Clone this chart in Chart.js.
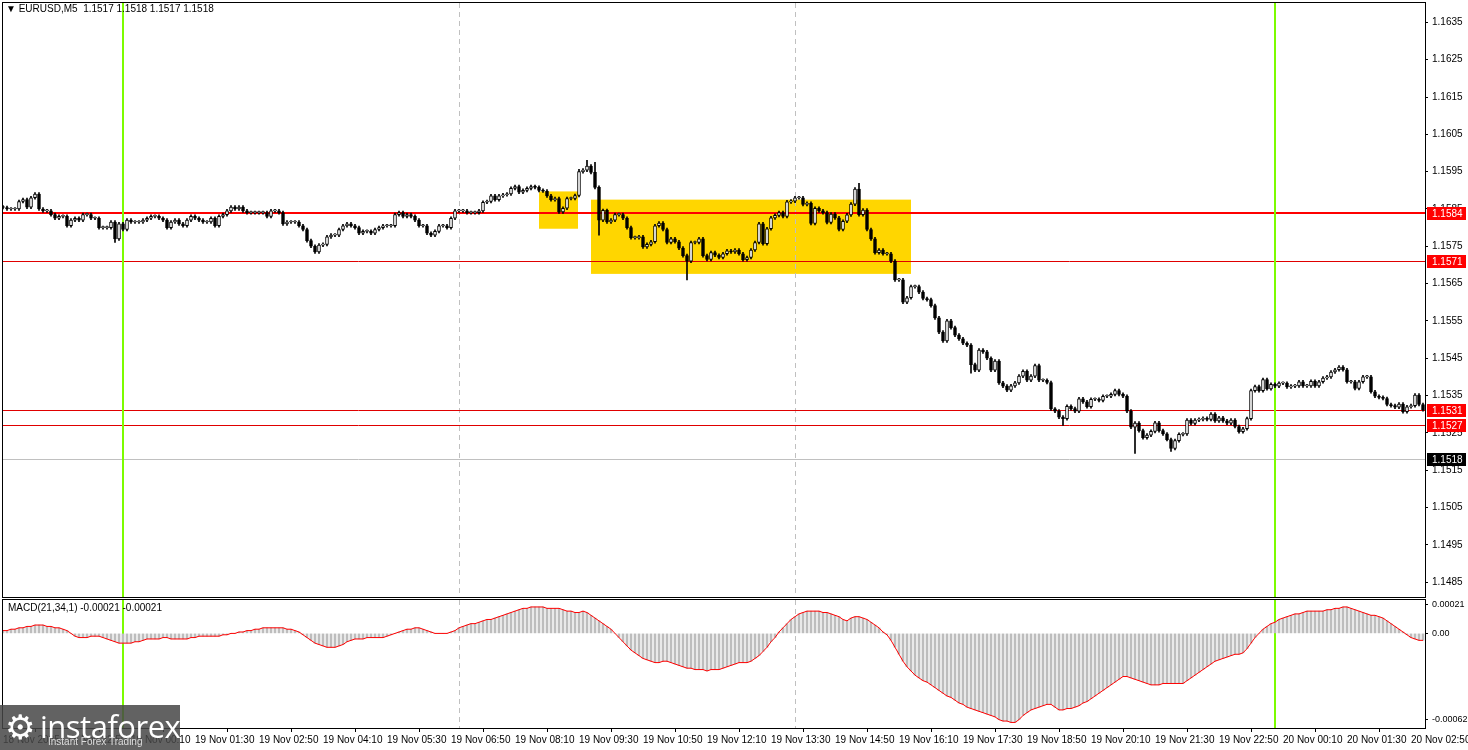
<!DOCTYPE html>
<html><head><meta charset="utf-8">
<script src="https://cdn.jsdelivr.net/npm/chart.js@4"></script>
<style>
html,body{margin:0;padding:0;background:#fff;width:1468px;height:750px;overflow:hidden;font-family:"Liberation Sans",Arial,sans-serif}
#c1{position:absolute;left:0;top:0}
#c2{position:absolute;left:0;top:596px}
#title{position:absolute;left:6px;top:3px;font-size:10px;color:#000}
#macdt{position:absolute;left:8px;top:602px;font-size:10px;color:#000}
#wm{position:absolute;left:0;top:705px;width:180px;height:45px;background:rgba(70,70,70,0.85);color:#fff}
#wm .a{position:absolute;left:40px;top:0px;font-size:31px;font-family:"Open Sans",sans-serif;letter-spacing:-0.5px}
#wm .b{position:absolute;left:48px;top:31px;font-size:10px;color:#ddd}
#wm .g{position:absolute;left:5px;top:2px;font-size:34px;color:#fff}
</style></head><body>
<canvas id="c1" width="1468" height="600"></canvas>
<canvas id="c2" width="1468" height="154"></canvas>
<div id="title">▼ EURUSD,M5&nbsp; 1.1517 1.1518 1.1517 1.1518</div>
<div id="macdt">MACD(21,34,1) -0.00021 -0.00021</div>
<div id="wm"><span class="g">⚙</span><span class="a">instaforex</span><span class="b">Instant Forex Trading</span></div>
<script>
// closes in pips above 1.1500, one per 5-minute bar starting 18 Nov 21:30
const closePips=[85.4,85,85,85,87,87.5,85.5,88,89,85,
84.5,84.5,83.5,82.5,83,83,80.5,82,82.5,82,
83.5,83.5,82.5,82.5,80,80,80,81.5,77,81,
79.5,82,81.5,81.5,81.5,82,82.5,83,83,82.5,
82,80,81.5,82,81,80.5,82,83,82.5,82,
81.5,81.5,82.5,80.5,83,83.5,84.5,85.5,85,85.5,
84.5,84,84,84,84,84,83,84.5,84.5,84,
81,81.5,81.5,81.5,80.5,79.5,76.5,75,73.5,75.3,
75.5,77.5,78,78,79.5,80.5,81,80.5,80,78.5,
79,79,78.5,79.5,80,80.5,80.5,80.5,83.5,84,
83,83.5,83,82,80.5,80.5,78.5,78,79,80.5,
80.5,80,82.5,84.5,84.5,84.5,84,84,84,84.5,
86.8,87,88.5,87.5,88.5,88.8,89,90.5,91,89.5,
90,90.5,91,90.8,90,89.8,88.5,87.5,87.8,84.2,
85.2,87.8,87.8,88.6,95,95.4,96.5,94.8,90.8,82,
84.6,81.5,82,83.5,83.5,82.5,80,77.3,77.3,77.5,
74.8,75.5,76.2,80.5,81.2,79.5,76,77,76.2,74.5,
72.5,71,76,76,77,72.5,71.5,73.3,72.6,72,
73,73.8,73.5,74,73,71.4,72,74,76,81,
75.7,79.7,82.6,83.3,84,83,86.9,87.1,88,88,
86.2,86.5,81.1,85.2,84.5,84,81.4,83.6,82.6,79.5,
81.7,83.4,86.3,90.3,83.5,84.7,79.5,77,73.3,74,
73,73,71,66,66,60,61.2,64.2,64.2,62.7,
61,60.7,59.1,55.8,52,49.6,55,53.2,51.2,50.2,
49,48.5,43.3,41.8,47.2,46.7,45,41.8,44.2,38.4,
37.5,36.4,37.6,38.4,40.2,41.5,39.1,40.2,43,39.1,
39.1,38.5,31.4,30.8,29.2,28.8,32.1,31.5,30.8,34.1,
33.3,32,34,34,33.7,34.8,34.8,35.3,36.3,35.3,
34.8,30.8,26.5,27.6,25.6,23.7,24.4,25.4,27.7,25.6,
24.7,23.2,20.8,22.9,24.6,24.7,28.4,27.5,28.4,28.6,
28.9,28.6,30,28.2,29,28.2,27.6,28.4,26.7,25.3,
26.1,28.8,36.3,37.4,36.3,39.3,36.8,38,37.5,38.3,
38.3,37.3,37.5,37.6,38.7,37.6,37.6,38.8,37.6,38.7,
39.7,40,41.3,41.9,42.6,41.9,38.7,38.7,36.9,38.7,
40,40,36,34.8,34.5,34.2,32.6,32.3,31.9,32.7,
30.7,32,32.3,35.1,32.6,31.2];
const firstOpenPips=85.5;
const highWicks=[[144,95.6],[146,98],[148,97.5],[214,91.9]];
const lowWicks=[[28,76],[149,78],[171,66],[242,41],[265,27],[283,19.5],[292,20]];
// MACD histogram, units of 0.00001
const macd=[2,2,3,3,4,4,5,5,6,
6,6,5,5,4,4,3,2,
0,-2,-3,-3,-3,-2,-2,-2,
-3,-4,-5,-6,-7,-7,-7,-7,
-6,-6,-5,-4,-4,
-4,-4,-3,-3,-4,-4,-4,-4,-4,
-3,-3,-2,-2,-2,-2,-2,-2,
-1,-1,0,0,1,1,2,2,3,3,
4,4,4,4,4,4,3,3,2,1,
-1,-3,-5,-7,-8,-9,-10,-10,-10,
-9,-8,-6,-5,-4,-4,-4,-3,-3,-3,-3,-3,
-2,-1,0,1,2,3,3,4,4,
3,2,1,0,0,0,0,1,
2,4,5,6,7,7,8,9,10,10,11,12,
13,14,15,16,17,18,18,19,
19,19,19,18,18,18,18,17,16,16,15,15,16,15,13,11,9,
7,5,3,0,-3,-6,-9,-12,-14,-16,-18,-19,-20,
-21,-21,-20,-20,-21,-22,-23,-24,-25,
-25,-26,-26,-26,-27,-26,-26,-26,-25,-24,-23,-22,-21,-21,-21,-20,
-18,-16,-13,-10,-6,-3,1,4,7,10,12,14,15,16,
16,16,16,15,15,14,13,12,10,9,11,12,12,
11,10,8,6,4,1,-1,
-5,-10,-15,-20,-24,-27,-30,-32,-34,-35,-37,
-39,-41,-43,-45,-46,-48,-50,-51,-53,-54,-55,-56,-57,-58,
-59,-60,-62,-63,-63,-64,-64,
-62,-59,-57,-55,-54,-53,-52,-51,-51,-53,-55,-55,
-54,-54,-53,-52,-50,-49,
-47,-45,-43,-41,-39,-37,-35,-33,-31,-31,-32,
-33,-34,-35,-36,-37,-37,-37,-36,-36,-36,-36,-36,-36,-34,-32,-30,
-28,-26,-24,-22,-20,-19,-18,-17,-16,-15,-15,-14,-11,-7,-3,
0,3,5,7,8,10,11,12,13,14,14,15,16,
16,16,16,16,17,17,18,18,19,19,18,17,16,
15,14,13,13,12,11,9,7,5,3,1,-1,-3,-4,-5,-5];
const priceTicks=[1.1485,1.1495,1.1505,1.1515,1.1525,1.1535,1.1545,1.1555,1.1565,1.1575,1.1585,1.1595,1.1605,1.1615,1.1625,1.1635];
const levelLines=[{p:1.1584,c:'#ff0000',w:2,tag:'#ff0000'},{p:1.1571,c:'#e00000',w:1,tag:'#ff0000'},{p:1.1531,c:'#e00000',w:1,tag:'#ff0000'},{p:1.1527,c:'#e00000',w:1,tag:'#ff0000'},{p:1.1518,c:'#c0c0c0',w:1,tag:'#000000'}];
const zones=[{x0:134,x1:143.75,p0:1.15897,p1:1.15797},{x0:147,x1:227,p0:1.15875,p1:1.15676}];
const greenLines=[30,318];
const dashLines=[114,198];
const timeTickPos=[0,16,32,48,64,80,96,112,128,144,160,176,192,208,224,240,256,272,288,304,320,336,352];
const timeTickLabels=['18 Nov 2025','18 Nov 22:50','19 Nov 00:10','19 Nov 01:30','19 Nov 02:50','19 Nov 04:10','19 Nov 05:30','19 Nov 06:50','19 Nov 08:10','19 Nov 09:30','19 Nov 10:50','19 Nov 12:10','19 Nov 13:30','19 Nov 14:50','19 Nov 16:10','19 Nov 17:30','19 Nov 18:50','19 Nov 20:10','19 Nov 21:30','19 Nov 22:50','20 Nov 00:10','20 Nov 01:30','20 Nov 02:50'];
const macdTicks=[21,0,-62], macdTickLabels=['0.00021','0.00','-0.00062'];

const P=v=>1.15+v/10000;
const bodies=[],wicks=[],bcol=[];
closePips.forEach((c,i)=>{
  const o=i===0?firstOpenPips:closePips[i-1];
  bodies.push({x:i,y:[P(o),P(c)]});
  bcol.push(c>=o?'#ffffff':'#000000');
  let hi=Math.max(o,c)+0.4, lo=Math.min(o,c)-0.4;
  highWicks.forEach(w=>{if(w[0]===i)hi=w[1];});
  lowWicks.forEach(w=>{if(w[0]===i)lo=w[1];});
  wicks.push({x:i,y:[P(lo),P(hi)]});
});
const XMIN=0,XMAX=355.5;
const FONT='"Liberation Sans",Arial,sans-serif';
Chart.defaults.font.family=FONT;
Chart.defaults.font.size=10;
Chart.defaults.color='#000';
Chart.defaults.animation=false;
const noPadY=s=>{s.width=43;s.paddingTop=0;s.paddingBottom=0;};

const mainPlug={id:'mainPlug',
 beforeDatasetsDraw(ch){const {ctx,chartArea:a,scales:{x,y}}=ch;ctx.save();
  ctx.fillStyle='#FFD600';
  zones.forEach(z=>{const X0=x.getPixelForValue(z.x0),X1=x.getPixelForValue(z.x1),Y0=y.getPixelForValue(z.p0),Y1=y.getPixelForValue(z.p1);ctx.fillRect(X0,Y0,X1-X0,Y1-Y0);});
  ctx.strokeStyle='#c0c0c0';ctx.setLineDash([5,4]);ctx.lineWidth=1;
  dashLines.forEach(d=>{const X=Math.round(x.getPixelForValue(d))+0.5;ctx.beginPath();ctx.moveTo(X,a.top);ctx.lineTo(X,a.bottom);ctx.stroke();});
  ctx.setLineDash([]);
  levelLines.forEach(l=>{const Y=Math.round(y.getPixelForValue(l.p))+(l.w===1?0.5:0);ctx.strokeStyle=l.c;ctx.lineWidth=l.w;ctx.beginPath();ctx.moveTo(a.left,Y);ctx.lineTo(a.right,Y);ctx.stroke();});
  ctx.strokeStyle='#7CFC00';ctx.lineWidth=2;
  greenLines.forEach(g=>{const X=Math.round(x.getPixelForValue(g));ctx.beginPath();ctx.moveTo(X,a.top);ctx.lineTo(X,a.bottom);ctx.stroke();});
  ctx.restore();},
 afterDraw(ch){const {ctx,chartArea:a,scales:{y}}=ch;ctx.save();
  ctx.strokeStyle='#000';ctx.lineWidth=1;ctx.strokeRect(a.left-0.5,a.top-0.5,a.right-a.left+1,a.bottom-a.top+1);
  ctx.font='10px '+FONT;ctx.textBaseline='middle';
  levelLines.forEach(l=>{const Y=Math.round(y.getPixelForValue(l.p));ctx.fillStyle=l.tag;ctx.fillRect(a.right+2,Y-6,39,13);ctx.fillStyle='#fff';ctx.fillText(l.p.toFixed(4),a.right+7,Y+1);});
  ctx.restore();}
};
new Chart(document.getElementById('c1'),{
 data:{datasets:[
  {type:'bar',data:wicks,backgroundColor:'#000',barThickness:1,grouped:false,order:2},
  {type:'bar',data:bodies,backgroundColor:bcol,borderColor:'#000',borderWidth:1,borderSkipped:false,barThickness:3,minBarLength:1,grouped:false,order:1}
 ]},
 options:{responsive:false,maintainAspectRatio:false,animation:false,
  layout:{padding:{left:3,top:3,bottom:3,right:0}},
  plugins:{legend:{display:false},tooltip:{enabled:false}},
  scales:{
   x:{type:'linear',min:XMIN,max:XMAX,display:false,offset:false},
   y:{position:'right',min:1.14810,max:1.16402,
     afterFit:noPadY,
     afterBuildTicks(s){s.ticks=priceTicks.map(v=>({value:v}));},
     ticks:{callback:v=>v.toFixed(4),padding:4,font:{size:10}},
     grid:{drawOnChartArea:false,drawTicks:true,tickLength:3,color:'#000'},
     border:{display:true,color:'#000'}}
  }},
 plugins:[mainPlug]
});

const macdPlug={id:'macdPlug',
 beforeDatasetsDraw(ch){const {ctx,chartArea:a,scales:{x}}=ch;ctx.save();
  ctx.strokeStyle='#c0c0c0';ctx.setLineDash([5,4]);ctx.lineWidth=1;
  dashLines.forEach(d=>{const X=Math.round(x.getPixelForValue(d))+0.5;ctx.beginPath();ctx.moveTo(X,a.top);ctx.lineTo(X,a.bottom);ctx.stroke();});
  ctx.setLineDash([]);ctx.strokeStyle='#7CFC00';ctx.lineWidth=2;
  greenLines.forEach(g=>{const X=Math.round(x.getPixelForValue(g));ctx.beginPath();ctx.moveTo(X,a.top);ctx.lineTo(X,a.bottom);ctx.stroke();});
  ctx.restore();},
 afterDraw(ch){const {ctx,chartArea:a}=ch;ctx.save();ctx.strokeStyle='#000';ctx.lineWidth=1;ctx.strokeRect(a.left-0.5,a.top-0.5,a.right-a.left+1,a.bottom-a.top+1);ctx.restore();}
};
const mpts=macd.map((v,i)=>({x:i,y:v}));
new Chart(document.getElementById('c2'),{
 data:{datasets:[
  {type:'line',data:mpts,borderColor:'#ff0000',borderWidth:1,pointRadius:0,tension:0,order:1},
  {type:'bar',data:mpts,backgroundColor:'#bdbdbd',barThickness:2,order:2}
 ]},
 options:{responsive:false,maintainAspectRatio:false,animation:false,
  layout:{padding:{left:3,top:4,bottom:0,right:0}},
  plugins:{legend:{display:false},tooltip:{enabled:false}},
  scales:{
   x:{type:'linear',min:XMIN,max:XMAX,offset:false,
     afterBuildTicks(s){s.ticks=timeTickPos.map(v=>({value:v}));},
     afterFit(s){s.height=22;s.paddingLeft=0;s.paddingRight=0;},
     ticks:{autoSkip:false,maxRotation:0,align:'start',padding:2,font:{size:10},callback:(v)=>timeTickLabels[timeTickPos.indexOf(v)]},
     grid:{drawOnChartArea:false,drawTicks:true,tickLength:4,color:'#000'},border:{display:false}},
   y:{position:'right',min:-68,max:24,
     afterFit:noPadY,
     afterBuildTicks(s){s.ticks=macdTicks.map(v=>({value:v}));},
     ticks:{callback:v=>macdTickLabels[macdTicks.indexOf(v)],padding:4,font:{size:9}},
     grid:{drawOnChartArea:false,drawTicks:true,tickLength:3,color:'#000'},border:{display:true,color:'#000'}}
  }},
 plugins:[macdPlug]
});
</script></body></html>
